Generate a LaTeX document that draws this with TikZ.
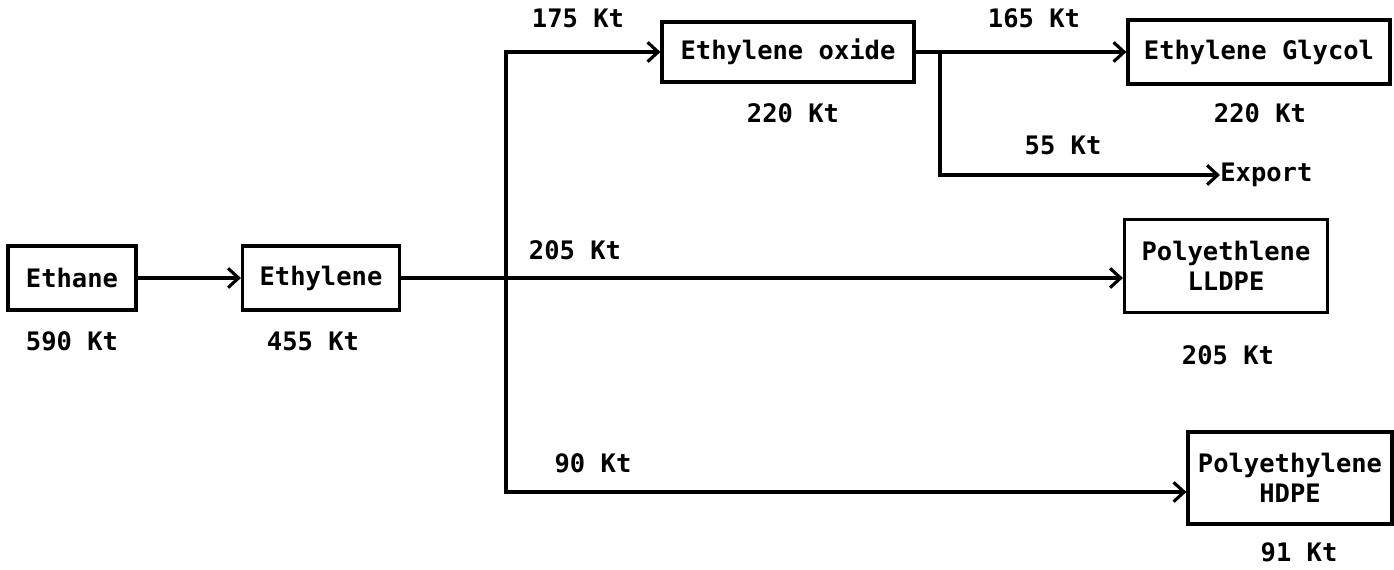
\documentclass[tikz,border=0pt]{standalone}
\usepackage{fontspec}
\setmainfont{DejaVu Sans Mono}
\usetikzlibrary{arrows.meta}
\begin{document}
\begin{tikzpicture}[x=0.02cm,y=-0.02cm,
  every node/.style={font=\fontsize{14.5}{17}\selectfont\bfseries},
  box/.style={draw,line width=1.8pt,rectangle,align=center,inner sep=0pt},
  lbl/.style={inner sep=0pt},
  flow/.style={line width=1.8pt},
  arr/.style={flow,-{Straight Barb[length=6pt,width=11pt,line width=1.8pt]}}]
\useasboundingbox (0,0) rectangle (1394,570);
\node[box,minimum width=2.56cm,minimum height=1.28cm] (ethane) at (72,278) {Ethane};
\node[box,minimum width=3.14cm,minimum height=1.28cm] (ethylene) at (321,278) {Ethylene};
\node[box,minimum width=5.04cm,minimum height=1.2cm] (eo) at (788,52) {Ethylene oxide};
\node[box,minimum width=5.24cm,minimum height=1.28cm] (glycol) at (1259,52) {Ethylene Glycol};
\node[box,minimum width=4.06cm,minimum height=1.86cm] (lldpe) at (1226,266) {Polyethlene\\LLDPE};
\node[box,minimum width=4.08cm,minimum height=1.84cm] (hdpe) at (1290,478) {Polyethylene\\HDPE};
\node[lbl,anchor=west] (export) at (1220,175) {Export};
\node[lbl] (l590) at (72,341) {590 Kt};
\node[lbl] (l455) at (313,341) {455 Kt};
\node[lbl] (l175) at (578,18) {175 Kt};
\node[lbl] (l220a) at (793,113) {220 Kt};
\node[lbl] (l165) at (1034,18) {165 Kt};
\node[lbl] (l220b) at (1260,113) {220 Kt};
\node[lbl] (l55) at (1063,145) {55 Kt};
\node[lbl] (l205a) at (575,250) {205 Kt};
\node[lbl] (l205b) at (1228,355) {205 Kt};
\node[lbl] (l90) at (593,463) {90 Kt};
\node[lbl] (l91) at (1299,552) {91 Kt};
\coordinate (ttop) at (506,52);
\coordinate (tbot) at (506,492);
\coordinate (br) at (940,52);
\draw[arr] (ethane.east) -- (ethylene.west);
\draw[arr] (ethylene.east) -- (ethylene.east -| lldpe.west);
\draw[arr] (tbot) -- (ttop) -- (eo.west);
\draw[arr] (ttop) -- (tbot) -- (tbot -| hdpe.west);
\draw[arr] (eo.east) -- (glycol.west);
\draw[arr] (br) |- (export.west);
\end{tikzpicture}
\end{document}
